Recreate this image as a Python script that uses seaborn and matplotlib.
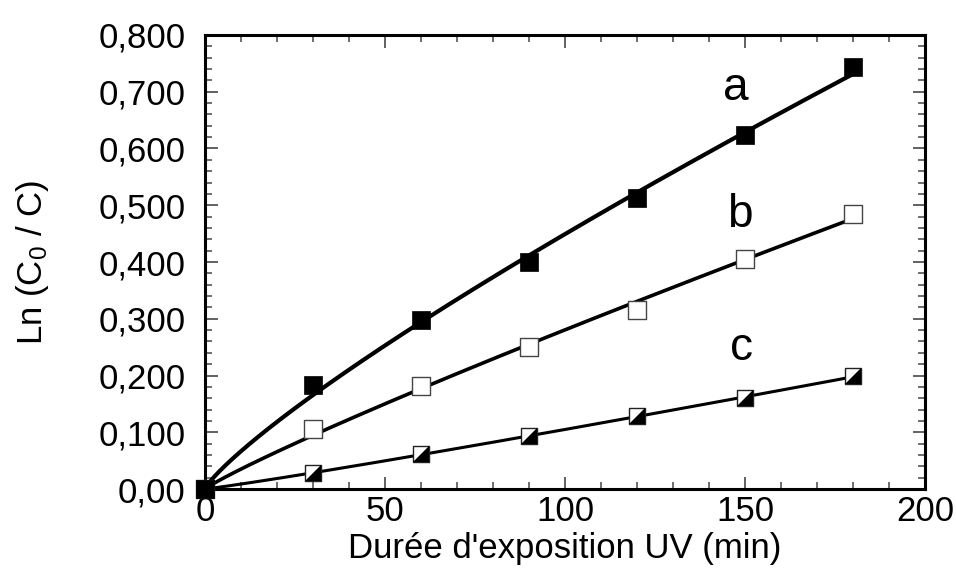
import numpy as np
import matplotlib
matplotlib.use("Agg")
import matplotlib.pyplot as plt
from matplotlib.path import Path
from matplotlib.ticker import MultipleLocator
import seaborn as sns

# Data
duree = [0, 30, 60, 90, 120, 150, 180]
serie_a = [0.0, 0.183, 0.297, 0.400, 0.512, 0.624, 0.744]
serie_b = [0.0, 0.105, 0.182, 0.251, 0.315, 0.405, 0.485]
serie_c = [0.0, 0.029, 0.061, 0.093, 0.129, 0.160, 0.199]
noms = ["a", "b", "c"]
y_ticks = [0.0, 0.1, 0.2, 0.3, 0.4, 0.5, 0.6, 0.7, 0.8]
y_labels = ["0,00", "0,100", "0,200", "0,300", "0,400", "0,500", "0,600", "0,700", "0,800"]
x_ticks = [0, 50, 100, 150, 200]

sns.set_theme(style="ticks")
plt.rcParams['font.family'] = ['Liberation Sans', 'DejaVu Sans']
plt.rcParams['mathtext.default'] = 'regular'
plt.rcParams['text.color'] = 'black'
plt.rcParams['axes.labelcolor'] = 'black'
plt.rcParams['xtick.labelcolor'] = 'black'
plt.rcParams['ytick.labelcolor'] = 'black'

fig = plt.figure(figsize=(9.56, 5.81), dpi=100)
ax = fig.add_axes([0.2144, 0.1583, 0.7532, 0.7815])

# power-law fit y = A * x^n (least squares in linear space)
def fit_puissance(x, y):
    x = np.asarray(x, float)
    y = np.asarray(y, float)
    best = None
    for n in np.linspace(0.4, 1.6, 1201):
        xn = x ** n
        A = np.sum(y * xn) / np.sum(xn * xn)
        err = np.sum((y - A * xn) ** 2)
        if best is None or err < best[0]:
            best = (err, A, n)
    _, A, n = best
    xx = np.linspace(0, max(x), 400)
    return xx, A * xx ** n

lw_fit = {"a": 3.0, "b": 2.6, "c": 2.2}
for nom, y in zip(noms, [serie_a, serie_b, serie_c]):
    xx, yy = fit_puissance(duree, y)
    sns.lineplot(x=xx, y=yy, ax=ax, color="black", lw=lw_fit[nom], zorder=2, clip_on=False)

# markers
tri = Path([(-1, -1), (1, -1), (1, 1), (-1, -1)], [Path.MOVETO, Path.LINETO, Path.LINETO, Path.CLOSEPOLY])
sns.scatterplot(x=duree, y=serie_c, ax=ax, marker="s", s=130, color="white",
                edgecolor="#222222", linewidth=1.0, zorder=3, clip_on=False)
sns.scatterplot(x=duree, y=serie_c, ax=ax, marker=tri, s=130, color="black",
                linewidth=0, zorder=4, clip_on=False)
sns.scatterplot(x=duree, y=serie_b, ax=ax, marker="s", s=150, color="white",
                edgecolor="#444444", linewidth=1.0, zorder=5, clip_on=False)
sns.scatterplot(x=duree, y=serie_a, ax=ax, marker="s", s=160, color="black",
                edgecolor="black", linewidth=0.5, zorder=6, clip_on=False)

# series letters
ax.text(147.5, 0.706, "a", fontsize=33, ha="center", va="center")
ax.text(148.5, 0.483, "b", fontsize=33, ha="center", va="center")
ax.text(149, 0.248, "c", fontsize=33, ha="center", va="center")

ax.set_xlim(0, 200)
ax.set_ylim(0, 0.8)
ax.set_xticks(x_ticks)
ax.set_yticks(y_ticks)
ax.set_yticklabels(y_labels)
ax.xaxis.set_minor_locator(MultipleLocator(10))
ax.yaxis.set_minor_locator(MultipleLocator(0.02))
ax.tick_params(which="both", direction="in", top=True, right=True, color="#555555")
ax.tick_params(which="major", length=9, width=1.3, labelsize=25)
ax.tick_params(which="minor", length=5, width=1.2)
ax.tick_params(axis="y", which="major", pad=14)
ax.tick_params(axis="x", which="major", pad=4)
for sp in ax.spines.values():
    sp.set_linewidth(2.2)
    sp.set_color("black")

ax.set_xlabel("Durée d'exposition UV (min)", fontsize=25, labelpad=3)
ax.set_ylabel("Ln (C$_0$ / C)", fontsize=25, labelpad=34)

fig.savefig("out.png", dpi=100)
